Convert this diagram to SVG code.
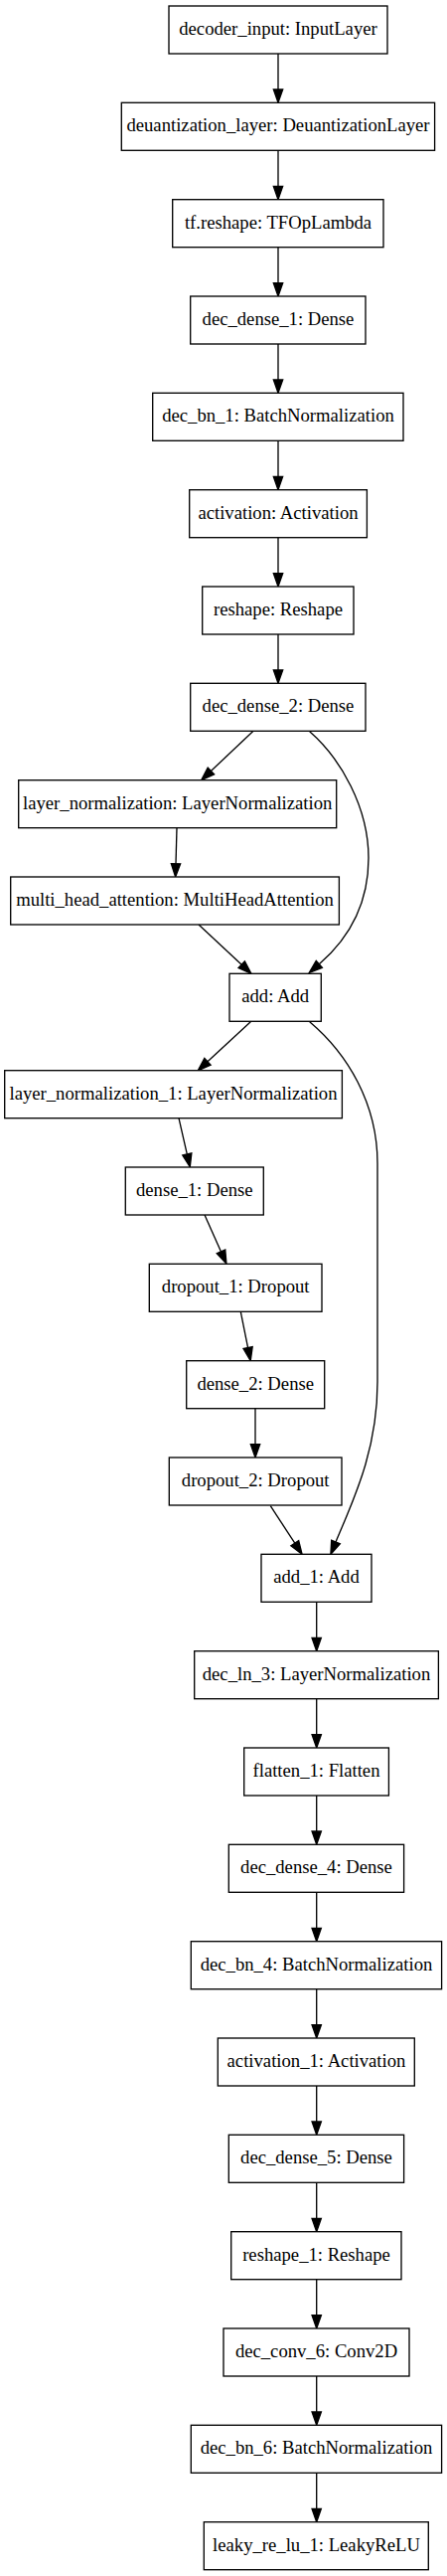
<svg xmlns="http://www.w3.org/2000/svg" width="450" height="2591" viewBox="0 0 450 2591">
<style>
.n rect{fill:#fff;stroke:#000;stroke-width:1.33}
.n text{font-family:"Liberation Serif","Times New Roman",serif;font-size:18.67px;fill:#000;text-anchor:middle}
.e path{fill:none;stroke:#000;stroke-width:1.33}
</style>
<defs>
<marker id="ah" markerUnits="userSpaceOnUse" markerWidth="15" markerHeight="11" refX="0" refY="4.67" orient="auto" overflow="visible">
<path d="M0,0 L13.33,4.67 L0,9.33 Z" fill="#000" stroke="#000" stroke-width="1.33"/>
</marker>
</defs>
<rect width="450" height="2591" fill="#fff"/>
<g id="edges" class="e">
<path d="M280,54 V90" marker-end="url(#ah)"/>
<path d="M280,151.3 V187.4" marker-end="url(#ah)"/>
<path d="M280,248.7 V284.7" marker-end="url(#ah)"/>
<path d="M280,346 V382" marker-end="url(#ah)"/>
<path d="M280,443.3 V479.4" marker-end="url(#ah)"/>
<path d="M280,540.7 V576.7" marker-end="url(#ah)"/>
<path d="M280,638 V674" marker-end="url(#ah)"/>
<path d="M255,735.3 L212.4,775.5" marker-end="url(#ah)"/>
<path d="M311.7,735.7 C343,763 371,812 371,863 C371,910 350,945 321.3,969.8" marker-end="url(#ah)"/>
<path d="M178,832.7 L177,868.7" marker-end="url(#ah)"/>
<path d="M200,930 L243.2,970.2" marker-end="url(#ah)"/>
<path d="M252.3,1027.7 L209,1067.8" marker-end="url(#ah)"/>
<path d="M311.7,1027.7 C350,1060 380,1110 380,1170 L380,1390 C380,1460 355,1510 338,1551" marker-end="url(#ah)"/>
<path d="M180,1124.7 L188.3,1160.9" marker-end="url(#ah)"/>
<path d="M206,1222 L222.5,1258.9" marker-end="url(#ah)"/>
<path d="M242.3,1319.3 L249.6,1355.6" marker-end="url(#ah)"/>
<path d="M257,1416.7 V1452.7" marker-end="url(#ah)"/>
<path d="M272.3,1514.7 L296.8,1552.2" marker-end="url(#ah)"/>
<path d="M318.7,1611.3 V1647.4" marker-end="url(#ah)"/>
<path d="M318.7,1708.7 V1744.7" marker-end="url(#ah)"/>
<path d="M318.7,1806 V1842" marker-end="url(#ah)"/>
<path d="M318.7,1903.3 V1939.4" marker-end="url(#ah)"/>
<path d="M318.7,2000.7 V2036.7" marker-end="url(#ah)"/>
<path d="M318.7,2098 V2134" marker-end="url(#ah)"/>
<path d="M318.7,2195.3 V2231.4" marker-end="url(#ah)"/>
<path d="M318.7,2292.7 V2328.7" marker-end="url(#ah)"/>
<path d="M318.7,2390 V2426" marker-end="url(#ah)"/>
<path d="M318.7,2487.3 V2523.4" marker-end="url(#ah)"/>
</g>
<g id="n0" class="n"><rect x="170" y="6" width="220" height="48"/><text x="280" y="35">decoder_input: InputLayer</text></g>
<g id="n1" class="n"><rect x="122.3" y="103.3" width="315.3" height="48"/><text x="280" y="132.3">deuantization_layer: DeuantizationLayer</text></g>
<g id="n2" class="n"><rect x="173.7" y="200.7" width="212.3" height="48"/><text x="280" y="229.7">tf.reshape: TFOpLambda</text></g>
<g id="n3" class="n"><rect x="191.7" y="298" width="176.3" height="48"/><text x="280" y="327">dec_dense_1: Dense</text></g>
<g id="n4" class="n"><rect x="153.7" y="395.3" width="252.3" height="48"/><text x="280" y="424.3">dec_bn_1: BatchNormalization</text></g>
<g id="n5" class="n"><rect x="190.7" y="492.7" width="178.7" height="48"/><text x="280" y="521.7">activation: Activation</text></g>
<g id="n6" class="n"><rect x="203.7" y="590" width="152.3" height="48"/><text x="280" y="619">reshape: Reshape</text></g>
<g id="n7" class="n"><rect x="191.7" y="687.3" width="176.3" height="48"/><text x="280" y="716.3">dec_dense_2: Dense</text></g>
<g id="n8" class="n"><rect x="18.7" y="784.7" width="320" height="48"/><text x="178.7" y="813.7">layer_normalization: LayerNormalization</text></g>
<g id="n9" class="n"><rect x="10.7" y="882" width="330.7" height="48"/><text x="176" y="911">multi_head_attention: MultiHeadAttention</text></g>
<g id="n10" class="n"><rect x="231" y="979.3" width="92.3" height="48"/><text x="277.2" y="1008.3">add: Add</text></g>
<g id="n11" class="n"><rect x="4.7" y="1076.7" width="339.7" height="48"/><text x="174.5" y="1105.7">layer_normalization_1: LayerNormalization</text></g>
<g id="n12" class="n"><rect x="126.3" y="1174" width="139" height="48"/><text x="195.8" y="1203">dense_1: Dense</text></g>
<g id="n13" class="n"><rect x="150.3" y="1271.3" width="173.7" height="48"/><text x="237.2" y="1300.3">dropout_1: Dropout</text></g>
<g id="n14" class="n"><rect x="187.7" y="1368.7" width="139" height="48"/><text x="257.2" y="1397.7">dense_2: Dense</text></g>
<g id="n15" class="n"><rect x="170.3" y="1466" width="173.7" height="48"/><text x="257.2" y="1495">dropout_2: Dropout</text></g>
<g id="n16" class="n"><rect x="263" y="1563.3" width="111" height="48"/><text x="318.5" y="1592.3">add_1: Add</text></g>
<g id="n17" class="n"><rect x="195.7" y="1660.7" width="245.7" height="48"/><text x="318.5" y="1689.7">dec_ln_3: LayerNormalization</text></g>
<g id="n18" class="n"><rect x="245.7" y="1758" width="145.7" height="48"/><text x="318.5" y="1787">flatten_1: Flatten</text></g>
<g id="n19" class="n"><rect x="230.3" y="1855.3" width="176.3" height="48"/><text x="318.5" y="1884.3">dec_dense_4: Dense</text></g>
<g id="n20" class="n"><rect x="192.3" y="1952.7" width="252.3" height="48"/><text x="318.5" y="1981.7">dec_bn_4: BatchNormalization</text></g>
<g id="n21" class="n"><rect x="219.3" y="2050" width="198" height="48"/><text x="318.5" y="2079">activation_1: Activation</text></g>
<g id="n22" class="n"><rect x="230.3" y="2147.3" width="176.3" height="48"/><text x="318.5" y="2176.3">dec_dense_5: Dense</text></g>
<g id="n23" class="n"><rect x="232.7" y="2244.7" width="171.3" height="48"/><text x="318.5" y="2273.7">reshape_1: Reshape</text></g>
<g id="n24" class="n"><rect x="225" y="2342" width="187" height="48"/><text x="318.5" y="2371">dec_conv_6: Conv2D</text></g>
<g id="n25" class="n"><rect x="192.3" y="2439.3" width="252.3" height="48"/><text x="318.5" y="2468.3">dec_bn_6: BatchNormalization</text></g>
<g id="n26" class="n"><rect x="205.3" y="2536.7" width="226" height="48"/><text x="318.5" y="2565.7">leaky_re_lu_1: LeakyReLU</text></g>
</svg>
